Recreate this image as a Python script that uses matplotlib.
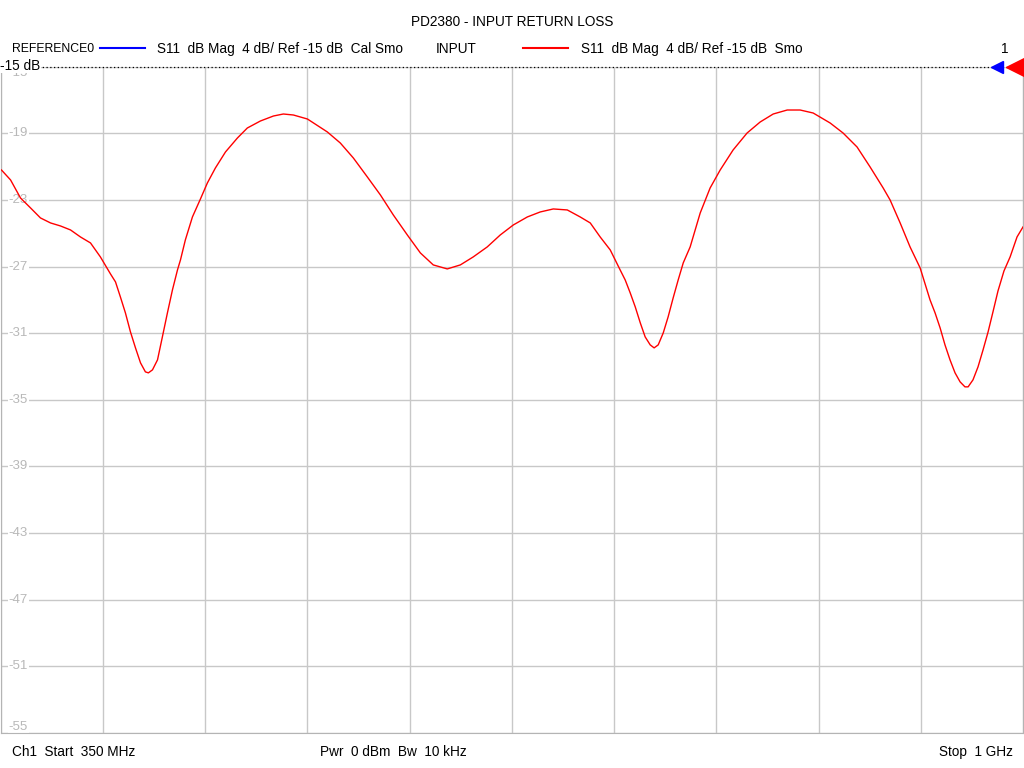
import numpy as np
import matplotlib
matplotlib.use('Agg')
import matplotlib.pyplot as plt
from matplotlib.transforms import blended_transform_factory

#%% Data
freq_mhz = [350.6, 356.4, 362.7, 369.1, 375.4, 381.8, 388.1, 394.5, 400.8, 407.2,
            413.5, 419.9, 423.1, 426.2, 429.4, 432.6, 435.8, 439.0, 442.1, 444.0,
            446.6, 449.8, 452.9, 456.1, 459.3, 462.5, 464.4, 467.5, 472.0, 477.1,
            481.5, 486.6, 493.0, 500.6, 506.9, 515.2, 523.5, 529.8, 536.2, 545.1,
            557.8, 566.0, 574.3, 583.2, 591.5, 599.7, 608.6, 616.9, 625.1, 634.0,
            642.3, 650.5, 659.4, 667.7, 676.0, 684.9, 693.1, 701.4, 710.3, 718.5,
            724.9, 731.2, 737.6, 743.9, 747.1, 750.3, 753.5, 756.7, 759.8, 763.0,
            765.5, 768.1, 771.3, 774.4, 777.6, 780.8, 784.0, 788.4, 794.8, 801.1,
            807.5, 815.7, 824.6, 832.9, 841.2, 850.1, 858.3, 866.6, 877.4, 885.6,
            894.5, 902.8, 911.1, 915.5, 921.9, 928.2, 934.6, 940.9, 944.1, 947.3,
            950.4, 953.6, 956.8, 960.0, 963.1, 965.1, 968.2, 971.4, 974.6, 977.8,
            980.9, 984.1, 987.9, 991.8, 996.2, 1000.0]
s11_db = [-21.20, -21.80, -22.88, -23.48, -24.08, -24.38, -24.56, -24.80, -25.22, -25.58,
          -26.42, -27.44, -27.92, -28.82, -29.78, -30.92, -31.88, -32.78, -33.32, -33.38,
          -33.20, -32.60, -31.22, -29.78, -28.40, -27.20, -26.60, -25.40, -24.02, -22.94,
          -21.98, -21.08, -20.12, -19.28, -18.68, -18.26, -17.96, -17.84, -17.90, -18.14,
          -18.92, -19.58, -20.48, -21.62, -22.70, -23.90, -25.10, -26.18, -26.90, -27.14,
          -26.90, -26.42, -25.82, -25.10, -24.50, -24.02, -23.72, -23.54, -23.60, -24.02,
          -24.38, -25.22, -26.00, -27.20, -27.80, -28.58, -29.42, -30.38, -31.22, -31.70,
          -31.88, -31.70, -30.98, -30.02, -28.88, -27.80, -26.78, -25.82, -23.78, -22.28,
          -21.20, -20.00, -18.98, -18.32, -17.84, -17.60, -17.60, -17.78, -18.38, -18.98,
          -19.82, -21.02, -22.28, -23.00, -24.38, -25.82, -27.08, -29.00, -29.78, -30.68,
          -31.70, -32.60, -33.38, -33.92, -34.22, -34.22, -33.80, -33.02, -32.00, -30.92,
          -29.72, -28.46, -27.26, -26.42, -25.22, -24.62]

f_start, f_stop = 350, 1000
ref_level = -15
scale = 4
n_div = 10
y_ticks = [ref_level - scale * k for k in range(n_div + 1)]
x_ticks = np.linspace(f_start, f_stop, n_div + 1)

title = 'PD2380 - INPUT RETURN LOSS'
ref_name = 'REFERENCE0'
ref_desc = 'S11  dB Mag  4 dB/ Ref -15 dB  Cal Smo'
trc_name = 'INPUT'
trc_desc = 'S11  dB Mag  4 dB/ Ref -15 dB  Smo'
footer_l = 'Ch1  Start  350 MHz'
footer_c = 'Pwr  0 dBm  Bw  10 kHz'
footer_r = 'Stop  1 GHz'

plt.rcParams['font.family'] = ['Liberation Sans', 'DejaVu Sans']

fig = plt.figure(figsize=(10.24, 7.68), dpi=100)
ax = fig.add_axes([0.0005, 1 - 733 / 768, 1022.5 / 1024, (733 - 66.7) / 768])

ax.plot(freq_mhz, s11_db, color='red', lw=1.0, zorder=3, solid_joinstyle='round')

ax.set_xlim(f_start, f_stop)
ax.set_ylim(y_ticks[-1], y_ticks[0])
ax.set_xticks(x_ticks)
ax.set_yticks(y_ticks)
ax.tick_params(length=0, labelbottom=False, labelleft=False)
ax.grid(True, color='#c8c8c8', lw=1)
for s in ['left', 'bottom', 'right']:
    ax.spines[s].set_color('#b4b4b4')
ax.spines['top'].set_visible(False)

# reference line
ax.axhline(ref_level, color='black', ls=(0, (1, 2)), lw=0.9, zorder=4, clip_on=False)

# y labels inside the grid
ytr = blended_transform_factory(ax.transAxes, ax.transData)
for v in y_ticks:
    va = 'center'
    if v == y_ticks[0]:
        va = 'top'
    elif v == y_ticks[-1]:
        va = 'bottom'
    ax.text(0.008, v, f'{v}', transform=ytr, color='#b8b8b8', fontsize=9.5,
            va=va, ha='left', zorder=2,
            bbox=dict(facecolor='white', edgecolor='none', pad=0.5))

# reference markers at right
ax.plot([0.9745], [ref_level], marker='<', ms=8.5, color='blue', transform=ytr,
        clip_on=False, zorder=5)
ax.plot([0.992], [ref_level], marker='<', ms=13, color='red', transform=ytr,
        clip_on=False, zorder=5)

# header / footer text
fs = 9.8
fig.text(512 / 1024, 1 - 22 / 768, title, ha='center', va='center', fontsize=fs)
fig.text(12 / 1024, 1 - 49 / 768, ref_name, ha='left', va='center', fontsize=8.8)
fig.add_artist(plt.Line2D([100 / 1024, 145 / 1024], [1 - 48 / 768] * 2, color='blue', lw=1.5))
fig.text(157 / 1024, 1 - 49 / 768, ref_desc, ha='left', va='center', fontsize=fs)
fig.text(436 / 1024, 1 - 49 / 768, trc_name, ha='left', va='center', fontsize=fs)
fig.add_artist(plt.Line2D([523 / 1024, 568 / 1024], [1 - 48 / 768] * 2, color='red', lw=1.5))
fig.text(581 / 1024, 1 - 49 / 768, trc_desc, ha='left', va='center', fontsize=fs)
fig.text(1008 / 1024, 1 - 49 / 768, '1', ha='right', va='center', fontsize=fs)
fig.text(0.5 / 1024, 1 - 66 / 768, '-15 dB', ha='left', va='center', fontsize=fs,
         bbox=dict(facecolor='white', edgecolor='none', pad=0.3), zorder=10)

fig.text(12 / 1024, 1 - 752 / 768, footer_l, ha='left', va='center', fontsize=fs)
fig.text(320 / 1024, 1 - 752 / 768, footer_c, ha='left', va='center', fontsize=fs)
fig.text(1013 / 1024, 1 - 752 / 768, footer_r, ha='right', va='center', fontsize=fs)

fig.savefig('out.png', dpi=100)
